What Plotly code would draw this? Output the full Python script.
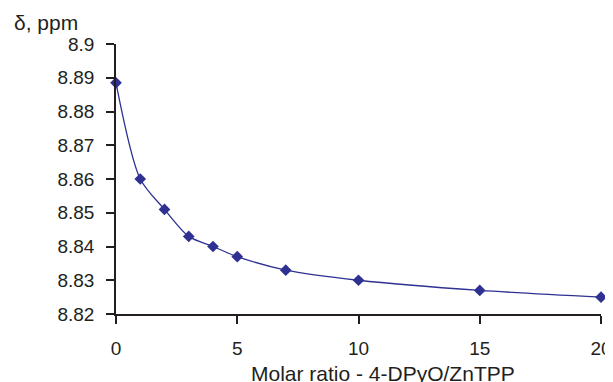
import plotly.graph_objects as go

ratio = [0, 1, 2, 3, 4, 5, 7, 10, 15, 20]
shift_ppm = [8.8885, 8.860, 8.851, 8.843, 8.840, 8.837, 8.833, 8.830, 8.827, 8.825]
x_ticks = [0, 5, 10, 15, 20]
y_ticks = [8.82, 8.83, 8.84, 8.85, 8.86, 8.87, 8.88, 8.89, 8.9]
y_tick_text = ["8.82", "8.83", "8.84", "8.85", "8.86", "8.87", "8.88", "8.89", "8.9"]

color = "#2E3192"
ink = "#231F20"
font = dict(family="Liberation Sans, Arial, sans-serif", size=19, color=ink)

# page body has an 8px margin; figure is sized to fill the rest of the window
OFF = 8
W, H = 613 - OFF, 382 - OFF
L, R, T, B = 116 - OFF, 12, 44 - OFF, 68


def px(x_screen):
    return (x_screen - OFF - L) / (W - L - R)


def py(y_screen):
    return ((H - B) - (y_screen - OFF)) / (H - T - B)


fig = go.Figure()
fig.add_trace(go.Scatter(
    x=ratio, y=shift_ppm, mode="lines+markers",
    line=dict(color=color, width=1.3, shape="spline", smoothing=0.8),
    marker=dict(symbol="diamond", size=9, color=color),
    showlegend=False, cliponaxis=False,
))

fig.update_layout(
    width=W, height=H,
    margin=dict(l=L, r=R, t=T, b=B, autoexpand=False),
    paper_bgcolor="white", plot_bgcolor="white",
    font=font,
    xaxis=dict(
        range=[0, 20], tickvals=x_ticks, ticks="outside", ticklen=8, tickwidth=1.5,
        tickcolor=ink, showline=True, linecolor=ink, linewidth=1.5,
        showgrid=False, zeroline=False, ticklabelstandoff=8, automargin=False,
    ),
    yaxis=dict(
        range=[8.82, 8.9], tickvals=y_ticks, ticktext=y_tick_text, ticks="outside",
        ticklen=8, tickwidth=1.5, tickcolor=ink, showline=True,
        linecolor=ink, linewidth=1.5, showgrid=False, zeroline=False,
        ticklabelstandoff=8, automargin=False,
    ),
)
fig.add_annotation(text="δ, ppm", x=px(12), y=py(22), xref="paper", yref="paper",
                   showarrow=False, xanchor="left", yanchor="middle",
                   font=dict(size=21))
fig.add_annotation(text="Molar ratio - 4-DPyO/ZnTPP", x=px(382.5), y=py(373),
                   xref="paper", yref="paper", showarrow=False,
                   xanchor="center", yanchor="middle", font=dict(size=21))

fig.write_html("out.html")
